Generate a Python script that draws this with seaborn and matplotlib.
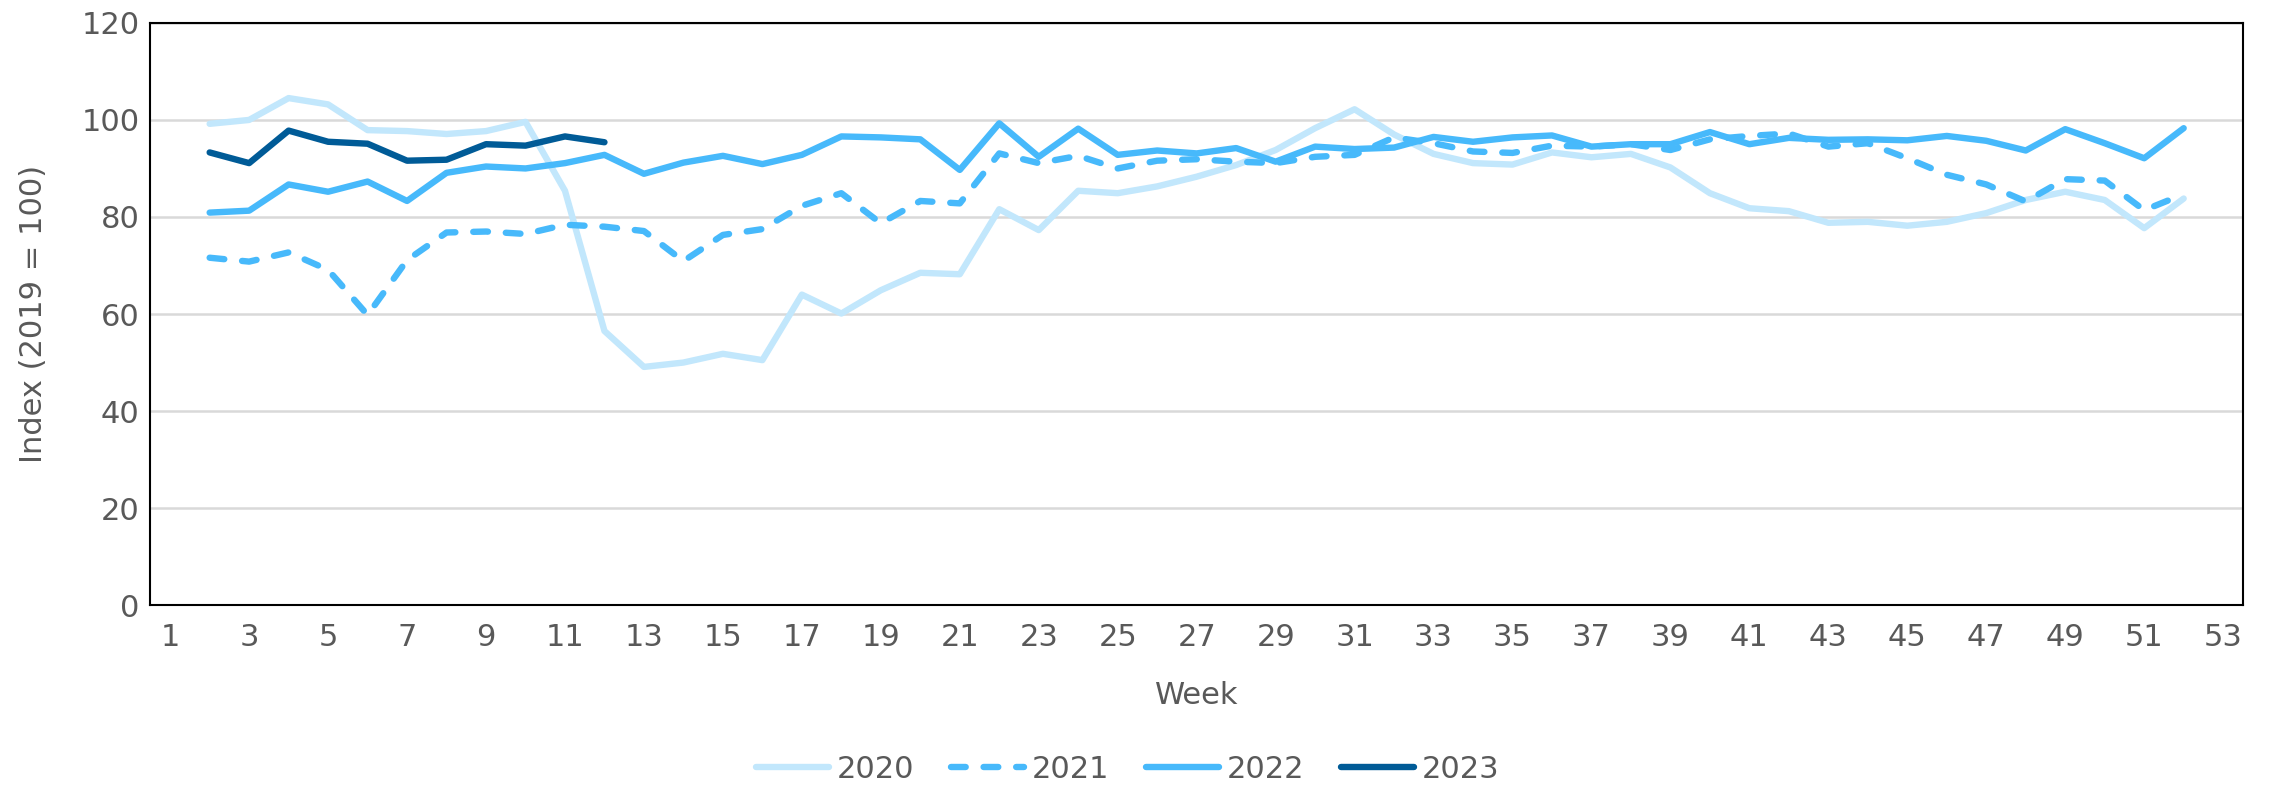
import numpy as np
import pandas as pd
import matplotlib
matplotlib.use("Agg")
import matplotlib.pyplot as plt
import seaborn as sns

weeks = list(range(2, 53))
weeks_2023 = list(range(2, 13))

y2020 = [99.2, 100.0, 104.5, 103.2, 97.9, 97.7, 97.1, 97.7, 99.6, 85.4, 56.5,
         49.1, 50.0, 51.8, 50.5, 64.0, 60.1, 64.9, 68.5, 68.2, 81.6, 77.3, 85.4,
         84.9, 86.3, 88.3, 90.7, 93.8, 98.3, 102.2, 97.0, 93.0, 91.1, 90.8, 93.3,
         92.3, 93.0, 90.2, 84.9, 81.8, 81.2, 78.8, 79.0, 78.2, 79.0, 80.8, 83.5,
         85.2, 83.5, 77.7, 83.8]
y2021 = [71.6, 70.8, 72.7, 69.1, 59.8, 71.1, 76.8, 77.0, 76.5, 78.4, 78.0,
         77.1, 70.9, 76.3, 77.5, 82.3, 84.9, 78.7, 83.3, 82.8, 93.1, 91.1, 92.6,
         90.0, 91.6, 91.9, 91.4, 91.1, 92.4, 92.8, 96.4, 95.2, 93.5, 93.2, 94.7,
         94.5, 95.0, 93.8, 96.0, 96.7, 97.2, 94.5, 95.2, 92.1, 88.7, 86.7, 83.2,
         87.8, 87.5, 81.4, 84.7]
y2022 = [80.9, 81.3, 86.7, 85.2, 87.3, 83.3, 89.1, 90.4, 90.0, 91.1, 92.8,
         88.9, 91.2, 92.6, 90.9, 92.8, 96.6, 96.4, 96.0, 89.7, 99.3, 92.4, 98.2,
         92.8, 93.7, 93.1, 94.2, 91.4, 94.5, 94.0, 94.3, 96.5, 95.5, 96.4, 96.8,
         94.5, 95.0, 95.0, 97.5, 95.0, 96.3, 95.9, 96.0, 95.8, 96.7, 95.7, 93.7,
         98.1, 95.2, 92.1, 98.3]
y2023 = [93.3, 91.1, 97.8, 95.5, 95.1, 91.6, 91.8, 95.0, 94.7, 96.6, 95.4]

years = ["2020", "2021", "2022", "2023"]
colors = ["#C2E7FC", "#47B9FB", "#47B9FB", "#005B97"]

df = pd.concat([
    pd.DataFrame({"week": weeks, "index": y2020, "year": "2020"}),
    pd.DataFrame({"week": weeks, "index": y2021, "year": "2021"}),
    pd.DataFrame({"week": weeks, "index": y2022, "year": "2022"}),
    pd.DataFrame({"week": weeks_2023, "index": y2023, "year": "2023"}),
])

sns.set_style("white")
plt.rcParams['font.family'] = ['DejaVu Sans']
txt = "#595959"
fs = 22

fig = plt.figure(figsize=(22.69, 7.89), dpi=100)
ax = fig.add_axes([0.0663, 0.233, 0.9222, 0.738])

for yr, c in zip(years, colors):
    sub = df[df["year"] == yr]
    sns.lineplot(data=sub, x="week", y="index", ax=ax, color=c, lw=4.6,
                 label=yr, solid_capstyle="round", legend=False)
    line = ax.lines[-1]
    if yr == "2021":
        line.set_dashes((2.3, 2.8))
        line.set_dash_capstyle("round")

ax.set_xlim(0.5, 53.5)
ax.set_ylim(0, 120)
ax.set_yticks(range(0, 121, 20))
ax.set_xticks(range(1, 54, 2))
ax.set_xticks(np.arange(0.5, 54, 1), minor=True)
ax.tick_params(axis="x", which="major", length=0, pad=13, labelsize=fs, labelcolor=txt)
ax.tick_params(axis="x", which="minor", length=11, width=1.5, color="black", direction="out")
ax.tick_params(axis="y", length=0, pad=8, labelsize=fs, labelcolor=txt)

ax.grid(axis="y", color="#D9D9D9", lw=1.8)
ax.set_axisbelow(True)
for s in ax.spines.values():
    s.set_color("black")
    s.set_linewidth(1.5)

ax.set_xlabel("Week", fontsize=fs, color=txt)
ax.xaxis.set_label_coords(0.5, -0.13)
ax.set_ylabel("Index (2019 = 100)", fontsize=fs, color=txt, labelpad=24)

handles = ax.lines[:4]
leg = fig.legend(handles, years, loc="center", bbox_to_anchor=(0.497, 0.025), ncol=4,
                 frameon=False, fontsize=fs, handlelength=2.4, columnspacing=1.2,
                 handletextpad=0.25)
for t in leg.get_texts():
    t.set_color(txt)

fig.savefig("out.png", dpi=100)
